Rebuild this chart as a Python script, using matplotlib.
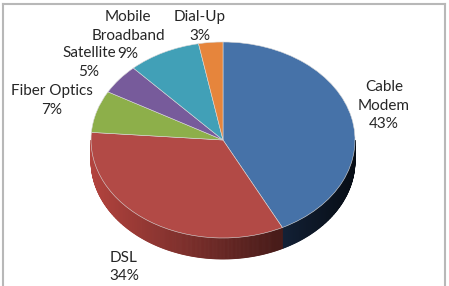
import numpy as np
import matplotlib
matplotlib.use('Agg')
import matplotlib.pyplot as plt
from matplotlib.patches import Polygon
from matplotlib.lines import Line2D

# data
labels = ['Cable\nModem', 'DSL', 'Fiber Optics', 'Satellite', 'Mobile\nBroadband', 'Dial-Up']
shares = [43, 34, 7, 5, 9, 3]
top_colors = ['#4672a8', '#b24a46', '#8daf4a', '#775b9b', '#41a0b7', '#e6853c']
side_colors = ['#24406a', '#8a3430', '#5f7a30', '#4f3c6a', '#2a6f80', '#a85a24']

# label anchor (centre of first line), pixels from top-left of the image
label_px = [(384, 87), (124, 258), (52, 91), (89, 53), (128, 17), (200, 17)]
line_h = 18.5

W, H = 449, 286
cx, cy = 223, 140      # centre of the top face (pixels)
rx, ry = 132, 98       # ellipse radii (pixels)
depth = 21 / ry        # thickness in data units

fig = plt.figure(figsize=(W / 100, H / 100), dpi=100)
ax = fig.add_axes([0, 0, 1, 1])


def px(x, y):
    return (x - cx) / rx, (cy - y) / ry


# slice angles, clockwise from 12 o'clock
fr = np.array(shares, dtype=float) / sum(shares)
ends = 90 - np.cumsum(fr) * 360
starts = np.concatenate([[90], ends[:-1]])

# side walls (front half only), shaded from the left
for s, e, col in zip(starts, ends, side_colors):
    lo, hi = max(e, -180), min(s, 0)
    if lo >= hi:
        continue
    th = np.linspace(lo, hi, int((hi - lo) * 2) + 2)
    base = np.array(matplotlib.colors.to_rgb(col))
    for a, b in zip(th[:-1], th[1:]):
        m = np.radians((a + b) / 2)
        f = 0.75 + 0.55 * (-np.cos(m))  # lighter on the left
        c = np.clip(base * f, 0, 1)
        ra, rb = np.radians(a), np.radians(b)
        pts = [(np.cos(ra), np.sin(ra)), (np.cos(rb), np.sin(rb)),
               (np.cos(rb), np.sin(rb) - depth), (np.cos(ra), np.sin(ra) - depth)]
        ax.add_patch(Polygon(pts, closed=True, facecolor=c, edgecolor=c, lw=0.6, zorder=1))

wedges, _ = ax.pie(shares, colors=top_colors, startangle=90, counterclock=False,
                   radius=1, center=(0, 0), frame=True,
                   wedgeprops=dict(linewidth=0.4, edgecolor='#d8d8d8'))
for w in wedges:
    w.set_zorder(2)
ax.set_xlim(-cx / rx, (W - cx) / rx)
ax.set_ylim(-(H - cy) / ry, cy / ry)
ax.set_aspect('auto')
ax.axis('off')

# one text per line so neighbouring labels sit side by side like in Excel
for lab, sh, (x, y) in zip(labels, shares, label_px):
    lines = lab.split('\n') + [f'{sh}%']
    for i, ln in enumerate(lines):
        tx, ty = px(x, y + i * line_h)
        ax.text(tx, ty, ln, ha='center', va='center', fontsize=11,
                family='Lato', color='#262626', zorder=5)

# chart area border
bc = '#b8b8b8'
fig.add_artist(Line2D([3 / W, 445 / W], [1 - 4 / H, 1 - 4 / H], transform=fig.transFigure, color=bc, lw=1.5))
fig.add_artist(Line2D([3 / W, 3 / W], [0, 1 - 4 / H], transform=fig.transFigure, color=bc, lw=1.5))
fig.add_artist(Line2D([445 / W, 445 / W], [0, 1 - 4 / H], transform=fig.transFigure, color=bc, lw=1.5))

fig.savefig('out.png', dpi=100, facecolor='white')
